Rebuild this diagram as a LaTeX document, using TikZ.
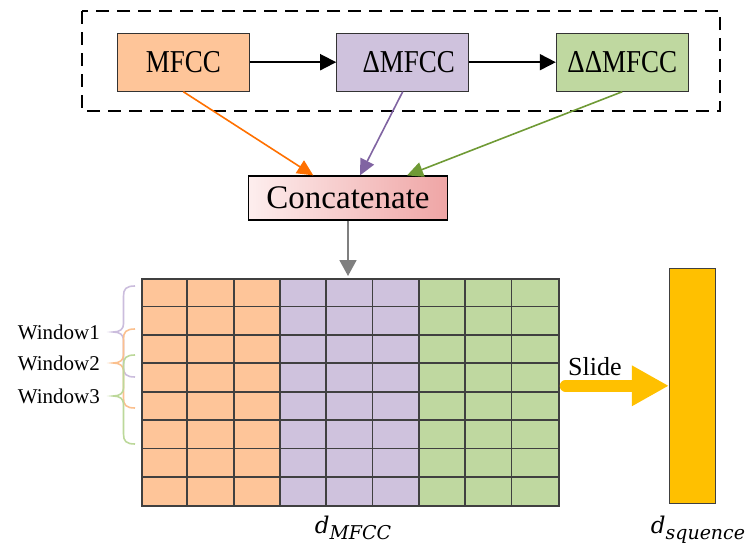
\documentclass[tikz,border=0pt]{standalone}
\usepackage{fontspec}
\setmainfont{Liberation Serif}
\newfontfamily\italfont{DejaVu Serif}
\usetikzlibrary{arrows.meta,calc}

\definecolor{mfccorange}{HTML}{FEC599}
\definecolor{mfccpurple}{HTML}{CFC2DD}
\definecolor{mfccgreen}{HTML}{BFD8A0}
\definecolor{gridline}{HTML}{404040}
\definecolor{linkorange}{HTML}{FF7000}
\definecolor{linkpurple}{HTML}{8064A2}
\definecolor{linkgreen}{HTML}{6F9A35}
\definecolor{linkgrey}{HTML}{7F7F7F}
\definecolor{slideyellow}{HTML}{FFC000}
\definecolor{concatlight}{HTML}{FDEEEE}
\definecolor{concatdark}{HTML}{EFA5A5}
\definecolor{bracepurple}{HTML}{CBBDDD}
\definecolor{braceorange}{HTML}{FBC08E}
\definecolor{bracegreen}{HTML}{BCD89A}

% feature names are set slightly taller than the plain serif
\newcommand{\featname}[1]{\scalebox{1}[1.18]{#1}}

\tikzset{
  featbox/.style={draw=black!80, line width=1pt, minimum width=132, minimum height=58,
    inner sep=0pt, font=\fontsize{27}{27}\selectfont},
  flow/.style={line width=1.8pt, -{Triangle[length=16pt,width=16pt]}},
  link/.style={line width=1.6pt, -{Triangle[length=16pt,width=15pt]}},
  cellline/.style={draw=gridline, line width=1.8pt},
  brace/.style={line width=1.6pt},
  winlabel/.style={anchor=east, inner sep=0pt, font=\fontsize{21}{21}\selectfont},
  dimlabel/.style={anchor=base, inner sep=0pt},
}

% curly brace beside the feature grid: top, tip and bottom heights, colour
\newcommand{\windowbrace}[4]{%
  \draw[brace,#4] (135,#1) .. controls (126,#1) and (123.5,{#1+3}) .. (123.5,{#1+10})
    -- (123.5,{#2-8}) .. controls (123.5,{#2-3}) and (120,#2) .. (113.3,#2)
    .. controls (120,#2) and (123.5,{#2+3}) .. (123.5,{#2+8})
    -- (123.5,{#3-10}) .. controls (123.5,{#3-3}) and (126,#3) .. (135,#3);}

\begin{document}
\begin{tikzpicture}[x=1pt,y=-1pt]
\useasboundingbox (0,0) rectangle (753,546);

% feature extraction stage
\draw[line width=1.8pt, dash pattern=on 13pt off 8pt] (82,11) rectangle (720,111);
\node[featbox, fill=mfccorange] (mfcc) at (183.3,62.2) {\featname{MFCC}};
\node[featbox, fill=mfccpurple] (dmfcc) at (402.7,62.2) {\hspace{12pt}\featname{ΔMFCC}};
\node[featbox, fill=mfccgreen] (ddmfcc) at (622.3,62.2) {\featname{ΔΔMFCC}};
\draw[flow] (mfcc) -- (dmfcc);
\draw[flow] (dmfcc) -- (ddmfcc);

% concatenation
\node[draw, line width=1.2pt, minimum width=199.4, minimum height=44, inner sep=0pt,
      left color=concatlight, right color=concatdark,
      font=\fontsize{33}{33}\selectfont] (cat) at (348,198) {Concatenate};
\coordinate (catin1) at ([xshift=-34.7pt]cat.north);
\coordinate (catin2) at ([xshift=12pt]cat.north);
\coordinate (catin3) at ([xshift=59pt]cat.north);
\draw[link, linkorange] (mfcc.south) -- (catin1);
\draw[link, linkpurple] (dmfcc.south) -- (catin2);
\draw[link, linkgreen] (ddmfcc.south) -- (catin3);

% feature matrix: 9 columns x 8 rows
\fill[mfccorange] (141,278) rectangle (279.9,505.2);
\fill[mfccpurple] (279.9,278) rectangle (418.8,505.2);
\fill[mfccgreen] (418.8,278) rectangle (557.7,505.2);
\foreach \i in {1,...,8} \draw[cellline] ({141+46.3*\i},278) -- ++(0,227.2);
\foreach \j in {1,...,7} \draw[cellline] (141,{278+28.4*\j}) -- ++(416.7,0);
\node[draw=gridline, line width=1.8pt, minimum width=416.7, minimum height=227.2,
      inner sep=0pt, anchor=north west] (grid) at (141,278) {};
\draw[line width=1.8pt, linkgrey, -{Triangle[length=16pt,width=17pt]}]
  (cat.south) -- ([yshift=2pt]cat.south |- grid.north);

% sliding windows
\windowbrace{286}{332}{377}{bracepurple}
\windowbrace{329}{363}{408}{braceorange}
\windowbrace{355}{396}{444}{bracegreen}
\node[winlabel] (win1) at (100,332) {Window1};
\node[winlabel] (win2) at (100,363) {Window2};
\node[winlabel] (win3) at (100,396) {Window3};

% sequence output
\node[draw=gridline, line width=0.8pt, fill=slideyellow, minimum width=46.4,
      minimum height=235, inner sep=0pt] (bar) at (692.5,385.8) {};
\draw[slideyellow, line width=11.5pt, line cap=round,
      -{Triangle[length=37pt,width=38pt]}]
  ($(grid.east |- bar.west)+(6,0)$) -- (bar.west);
\node[anchor=base west, inner sep=0pt, font=\fontsize{26}{26}\selectfont] (slide)
  at (568,375) {Slide};

% dimension labels
\node[dimlabel] (dmfcclabel) at (353,533)
  {\italfont\itshape\fontsize{23}{23}\selectfont d\raisebox{-6.5pt}{\fontsize{19}{19}\selectfont MFCC}};
\node[dimlabel] (dseqlabel) at (698,533)
  {\italfont\itshape\fontsize{23}{23}\selectfont d\raisebox{-6.5pt}{\fontsize{19}{19}\selectfont squence}};
\end{tikzpicture}
\end{document}
